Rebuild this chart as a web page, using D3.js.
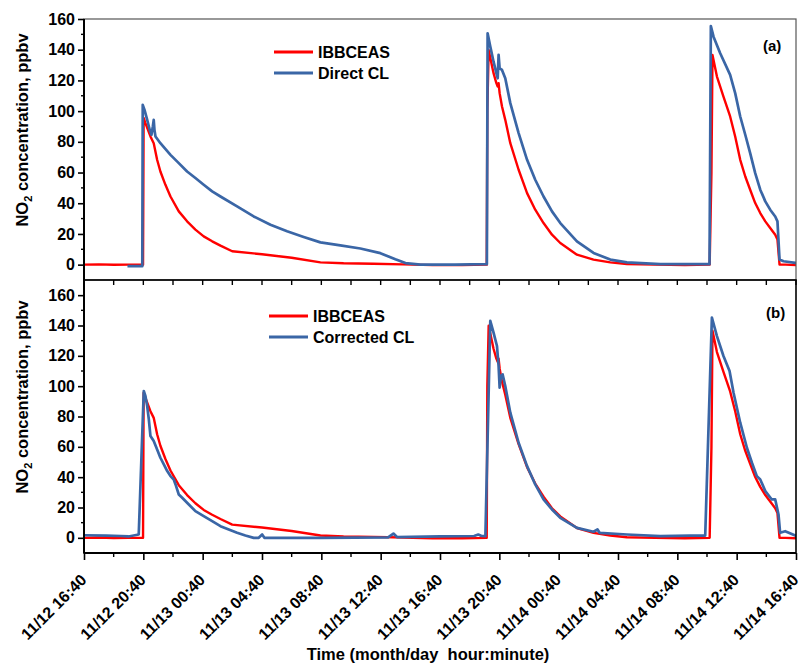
<!DOCTYPE html>
<html><head><meta charset="utf-8">
<script src="https://cdn.jsdelivr.net/npm/d3@7/dist/d3.min.js"></script>
<style>
body{margin:0;background:#fff}
text{font-family:"Liberation Sans",Arial,sans-serif;font-weight:bold;fill:#000}
</style>
</head><body>
<svg id="chart" width="807" height="664"></svg>
<script>
// ---------- DATA (hours since 11/12 16:40) ----------
const startTime = new Date(2013, 10, 12, 16, 40);
const spanHours = 48;
const tickStepHours = 4;
const yTicksA = [0, 20, 40, 60, 80, 100, 120, 140, 160];
const yTicksB = [0, 20, 40, 60, 80, 100, 120, 140, 160];
const seriesNames = ["IBBCEAS", "Direct CL", "Corrected CL"];
const panelLabels = ["(a)", "(b)"];

// IBBCEAS
const ibbHours = [0, 1, 2, 3, 3.98, 4.02, 4.14, 4.48, 4.70, 4.93, 5.15, 5.49, 5.83, 6.39, 6.95, 7.51, 8.07, 8.64, 9.20, 9.99, 12.0, 14.0, 15.94, 17.5, 19.5, 21.5, 23.5, 25.5, 27.15,
  27.19, 27.28, 27.61, 27.80, 27.89, 27.95, 28.02, 28.18, 28.40, 28.74, 29.30, 29.87, 30.42, 30.98, 31.55, 32.11, 33.23, 34.35, 35.48, 36.60, 38.5, 40.5, 42.18,
  42.30, 42.37, 42.67, 43.11, 43.56, 43.90, 44.24, 44.58, 44.91, 45.25, 45.59, 45.93, 46.26, 46.60, 46.75, 46.89, 47.3, 48];
const ibbValues = [0, 0.2, -0.1, 0, 0, 95.6, 92.2, 83.5, 79.1, 68.3, 60.7, 52, 44.4, 34.7, 28.2, 22.8, 18.4, 15.2, 12.4, 8.7, 6.8, 4.5, 1.5, 0.9, 0.6, 0.2, -0.3, -0.3, 0,
  100, 139.8, 124.7, 118.2, 116, 118.2, 111.7, 103, 94.3, 79.1, 61.8, 46.6, 35.8, 27.1, 19.5, 14.1, 6.5, 3.3, 1.5, 0.4, 0, -0.3, 0,
  60, 136.6, 122.5, 109.5, 96.5, 83.5, 68.3, 57.4, 48.8, 40.1, 33.6, 28.2, 23.9, 19.5, 16.3, 0, 0, -0.3];

// Direct CL (panel a)
const directHours = [2.93, 3.5, 3.93, 3.96, 4.08, 4.26, 4.43, 4.55, 4.64, 4.70, 4.75, 4.82, 5.15, 5.83, 6.39, 6.95, 7.51, 8.07, 8.64, 9.20, 10.32, 11.44, 12.57, 13.69, 14.81, 15.94, 17.28, 18.63, 19.98, 20.99, 21.67, 22.68, 25.0, 27.16,
  27.21, 27.39, 27.61, 27.80, 27.89, 27.95, 28.02, 28.18, 28.40, 28.74, 29.30, 29.87, 30.42, 30.98, 31.55, 32.11, 33.23, 34.35, 35.48, 36.60, 38.85, 40.5, 42.17,
  42.26, 42.44, 42.89, 43.56, 43.90, 44.24, 44.58, 44.91, 45.25, 45.59, 45.93, 46.26, 46.60, 46.75, 46.89, 47.16, 47.95, 48];
const directValues = [-1, -1, -1, 104.1, 100.8, 94.3, 87.8, 84.6, 90, 94.3, 87.8, 83.5, 79.1, 71.5, 66.1, 60.7, 56.4, 52, 47.7, 44.4, 37.9, 31.4, 26, 21.7, 18, 14.5, 12.5, 10.5, 7.5, 3.5, 1, 0, 0, 0.3,
  150.7, 142, 132.2, 124.7, 121.4, 136.6, 127.9, 126.8, 121.4, 105.2, 85.7, 68.3, 55.3, 44.4, 34.7, 27.1, 15.2, 7.6, 3.3, 1.5, 0.4, 0.3, 0.3,
  155.4, 148.5, 137.7, 123.6, 111.7, 96.5, 84.6, 72.6, 59.6, 48.8, 41.2, 35.8, 31.4, 28.2, 3.3, 2.2, 1.1, 1.1];

// Corrected CL (panel b)
const corrHours = [0, 1.5, 2.5, 3.0, 3.69, 4.03, 4.14, 4.26, 4.37, 4.48, 4.70, 4.93, 5.15, 5.38, 5.61, 5.83, 6.05, 6.17, 6.39, 6.62, 6.95, 7.51, 8.07, 8.64, 9.20, 9.76, 10.32, 10.88, 11.44, 11.78, 12.01, 12.16, 15.94, 20.5, 20.86, 21.1, 24.0, 26.3, 26.58, 26.8, 27.06,
  27.39, 27.61, 27.84, 27.95, 28.02, 28.11, 28.22, 28.40, 28.74, 29.30, 29.87, 30.42, 30.98, 31.55, 32.11, 33.23, 34.35, 34.62, 34.76, 36.60, 38.85, 40.86, 41.88,
  42.33, 42.67, 43.11, 43.52, 43.79, 44.24, 44.69, 45.03, 45.36, 45.59, 45.93, 46.37, 46.60, 46.82, 46.93, 47.27, 47.95, 48];
const corrValues = [1.7, 1.5, 1.2, 0.9, 2.2, 96.8, 93.5, 86.9, 78.1, 67.1, 63.8, 58.3, 52.8, 48.4, 44, 40.7, 38.5, 35.2, 28.6, 26.4, 23.1, 17.6, 14.3, 11, 7.7, 5.5, 3.3, 1.5, 0, 0, 2.2, 0, 0, 0.3, 2.8, 0.5, 1, 1.2, 2.2, 1.2, 1.1,
  143, 135.3, 126.5, 113.3, 99, 106.7, 107.8, 100.1, 82.5, 62.7, 47.3, 35.2, 25.3, 18.7, 13.2, 6.6, 4, 5.5, 3.3, 2.2, 1.1, 1.5, 1.5,
  145.2, 133, 119.9, 110, 95.7, 75.9, 59.4, 49.5, 40.7, 38.5, 30.8, 25.3, 25.3, 15.4, 3.3, 4.4, 1.5, 1.5];

// ---------- LAYOUT ----------
const red = "#ff0000", blue = "#3a66a6";
const svg = d3.select("#chart");
const X0 = 84, X1 = 796;
const toDate = h => new Date(startTime.getTime() + h * 3600e3);
const x = d3.scaleTime().domain([startTime, toDate(spanHours)]).range([X0, X1]);
const majorTicks = d3.range(0, spanHours + 0.01, tickStepHours).map(toDate);
const minorTicks = d3.range(tickStepHours / 2, spanHours, tickStepHours).map(toDate);
const fmt = d3.timeFormat("%m/%d %H:%M");

const panels = [
  {top: 19, bottom: 280, domain: [-10, 160], ticks: yTicksA, series: [[ibbHours, ibbValues, red, 2.4], [directHours, directValues, blue, 2.7]],
   legend: [seriesNames[0], seriesNames[1]], legX: 274, legY: 52, label: panelLabels[0], labX: 763, labY: 51, frame: "#555", frameW: 1.2, titleY: 130},
  {top: 280, bottom: 553, domain: [-10, 170], ticks: yTicksB, series: [[ibbHours, ibbValues, red, 2.4], [corrHours, corrValues, blue, 2.7]],
   legend: [seriesNames[0], seriesNames[2]], legX: 269, legY: 316, label: panelLabels[1], labX: 766, labY: 318, frame: "#000", frameW: 1.6, titleY: 397}
];

panels.forEach((p, i) => {
  const y = d3.scaleLinear().domain(p.domain).range([p.bottom, p.top]);
  const clipId = "clip" + i;
  svg.append("clipPath").attr("id", clipId).append("rect")
    .attr("x", X0).attr("y", p.top).attr("width", X1 - X0).attr("height", p.bottom - p.top);

  // series
  p.series.forEach(([hs, vs, col, w]) => {
    const pts = hs.map((h, k) => [toDate(h), vs[k]]);
    svg.append("path").datum(pts)
      .attr("clip-path", `url(#${clipId})`)
      .attr("fill", "none").attr("stroke", col).attr("stroke-width", w)
      .attr("stroke-linejoin", "round")
      .attr("d", d3.line().x(d => x(d[0])).y(d => y(d[1])));
  });

  // frame
  svg.append("rect").attr("x", X0).attr("y", p.top).attr("width", X1 - X0).attr("height", p.bottom - p.top)
    .attr("fill", "none").attr("stroke", p.frame).attr("stroke-width", p.frameW);

  // left axis
  const yAxis = d3.axisLeft(y).tickValues(p.ticks).tickSize(6).tickPadding(3);
  const ga = svg.append("g").attr("transform", `translate(${X0},0)`).call(yAxis);
  ga.select(".domain").remove();
  ga.selectAll("line").attr("stroke", "#000").attr("stroke-width", 1.6);
  ga.selectAll("text").style("font-size", "16px");
  const minorY = d3.range(p.domain[0] + 20, p.domain[1], 20).filter(v => v > p.domain[0]);
  svg.append("g").selectAll("line").data(minorY).join("line")
    .attr("x1", X0 - 3).attr("x2", X0).attr("y1", d => y(d)).attr("y2", d => y(d))
    .attr("stroke", "#000").attr("stroke-width", 1.4);
  svg.append("line").attr("x1", X0).attr("x2", X0).attr("y1", p.top).attr("y2", p.bottom)
    .attr("stroke", "#000").attr("stroke-width", 2);

  // y title
  const t = svg.append("text").attr("text-anchor", "middle")
    .attr("transform", `translate(28,${p.titleY}) rotate(-90)`).style("font-size", "16.5px");
  t.append("tspan").text("NO");
  t.append("tspan").attr("dy", 4).style("font-size", "11px").text("2");
  t.append("tspan").attr("dy", -4).text(" concentration, ppbv");

  // legend
  p.legend.forEach((name, k) => {
    const ly = p.legY + k * 21;
    svg.append("line").attr("x1", p.legX).attr("x2", p.legX + 39).attr("y1", ly).attr("y2", ly)
      .attr("stroke", k === 0 ? red : blue).attr("stroke-width", 2.8);
    svg.append("text").attr("x", p.legX + 44).attr("y", ly + 5.5).style("font-size", "16px").text(name);
  });
  svg.append("text").attr("x", p.labX).attr("y", p.labY).style("font-size", "15px").text(p.label);
});

// ticks at the shared border (pointing into panel b)
svg.append("g").selectAll("line").data(majorTicks.concat(minorTicks)).join("line")
  .attr("x1", d => x(d)).attr("x2", d => x(d)).attr("y1", 280).attr("y2", 285)
  .attr("stroke", "#000").attr("stroke-width", 1.4);

// bottom axis
const bottomY = 553;
svg.append("line").attr("x1", X0).attr("x2", X1).attr("y1", bottomY).attr("y2", bottomY).attr("stroke", "#000").attr("stroke-width", 2);
const xAxis = d3.axisBottom(x).tickValues(majorTicks).tickFormat(fmt).tickSize(7);
const gx = svg.append("g").attr("transform", `translate(0,${bottomY})`).call(xAxis);
gx.select(".domain").remove();
gx.selectAll("line").attr("stroke", "#000").attr("stroke-width", 1.6);
gx.selectAll("text").style("font-size", "16px").attr("text-anchor", "end")
  .attr("y", 0).attr("dy", 0)
  .attr("transform", "translate(3,28) rotate(-45)");
svg.append("g").selectAll("line").data(minorTicks).join("line")
  .attr("x1", d => x(d)).attr("x2", d => x(d)).attr("y1", bottomY).attr("y2", bottomY + 4)
  .attr("stroke", "#000").attr("stroke-width", 1.4);

svg.append("text").attr("x", 428).attr("y", 660).attr("text-anchor", "middle")
  .style("font-size", "16.5px").style("white-space", "pre").text("Time (month/day  hour:minute)");
</script>
</body></html>
